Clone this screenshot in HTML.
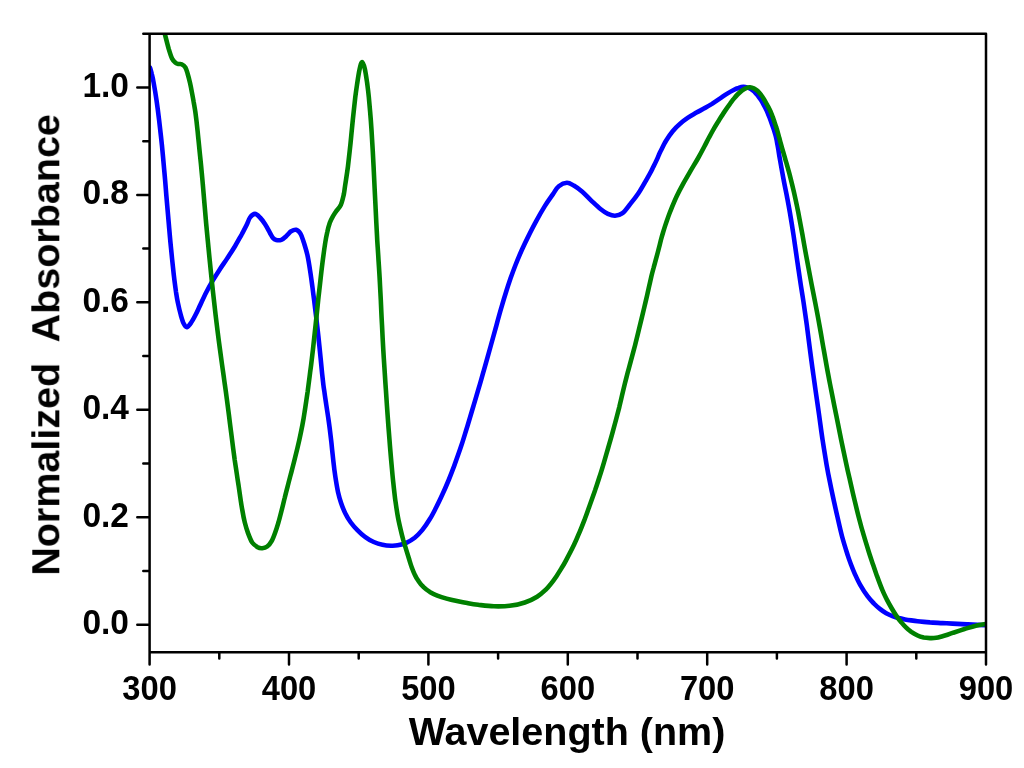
<!DOCTYPE html><html><head><meta charset="utf-8"><style>html,body{margin:0;padding:0;background:#fff;}svg{display:block;}text{font-family:"Liberation Sans",sans-serif;font-weight:bold;fill:#000;}.t{opacity:0.999;will-change:transform;}</style></head><body>
<svg width="1024" height="768" viewBox="0 0 1024 768">
<rect x="0" y="0" width="1024" height="768" fill="#fff"/>
<defs><clipPath id="c"><rect x="149.60" y="33.80" width="836.40" height="618.40"/></clipPath></defs>
<g clip-path="url(#c)" fill="none" stroke-width="4.60" stroke-linejoin="round" stroke-linecap="round">
<path stroke="#0000ff" d="M150.0,67.5 C150.3,68.6 151.2,71.5 151.8,74.0 C152.5,76.6 152.9,78.2 153.6,82.5 C154.4,86.9 155.6,93.8 156.5,100.1 C157.4,106.3 158.2,112.5 159.1,120.0 C160.0,127.5 161.0,136.7 161.9,145.0 C162.7,153.3 163.5,161.7 164.2,170.0 C165.0,178.3 165.6,185.8 166.3,195.0 C167.1,204.2 168.1,215.8 168.9,225.0 C169.7,234.2 170.3,241.7 171.2,250.0 C172.0,258.3 173.0,268.0 173.8,275.0 C174.6,282.0 175.4,287.4 176.0,292.0 C176.7,296.5 177.0,298.6 177.8,302.4 C178.6,306.3 179.8,311.4 180.8,315.0 C181.8,318.5 182.7,321.7 183.8,323.8 C184.8,325.8 185.7,327.4 186.9,327.2 C188.2,327.0 189.7,324.7 191.2,322.5 C192.8,320.3 194.5,317.0 196.1,313.8 C197.7,310.7 199.1,307.2 200.9,303.6 C202.6,299.9 204.4,295.9 206.3,292.2 C208.3,288.4 210.2,285.0 212.4,281.2 C214.6,277.5 217.0,273.7 219.6,269.7 C222.1,265.8 225.2,261.6 227.7,257.6 C230.3,253.7 232.7,250.0 235.0,246.2 C237.3,242.4 239.5,238.3 241.5,234.8 C243.4,231.2 245.2,228.0 246.6,225.1 C248.0,222.2 248.6,219.4 250.0,217.5 C251.4,215.6 253.3,213.9 255.0,213.9 C256.7,213.9 258.3,215.8 260.0,217.5 C261.7,219.2 263.4,221.7 265.1,224.3 C266.8,226.9 268.7,230.7 270.0,233.0 C271.3,235.3 272.0,236.8 273.0,238.0 C274.0,239.2 274.9,239.7 276.2,240.0 C277.6,240.3 279.6,240.4 281.2,239.8 C282.9,239.1 284.6,237.7 286.2,236.2 C287.9,234.8 289.6,232.3 291.2,231.2 C292.9,230.2 294.7,229.4 296.2,229.8 C297.8,230.2 299.3,231.6 300.6,233.8 C301.9,235.9 302.7,239.2 303.9,242.7 C305.0,246.3 306.4,250.5 307.4,255.0 C308.4,259.5 309.2,264.6 310.0,270.0 C310.9,275.4 311.8,282.5 312.5,287.5 C313.1,292.5 313.4,294.8 314.1,300.0 C314.7,305.2 315.6,312.5 316.4,318.7 C317.1,325.0 317.8,331.0 318.5,337.5 C319.2,344.1 320.0,352.2 320.6,358.0 C321.2,363.8 321.6,368.0 322.0,372.5 C322.5,377.0 323.0,381.7 323.4,385.0 C323.8,388.3 324.0,389.2 324.5,392.5 C324.9,395.8 325.7,400.8 326.3,405.0 C326.9,409.2 327.6,413.3 328.2,417.5 C328.8,421.7 329.4,425.8 329.9,430.0 C330.4,434.2 330.9,438.3 331.4,442.5 C331.8,446.7 332.2,450.8 332.7,455.0 C333.1,459.1 333.8,465.0 334.1,467.5 C334.4,470.0 334.1,467.8 334.4,470.0 C334.7,472.2 335.4,477.3 336.0,480.9 C336.6,484.6 337.2,488.3 338.0,492.0 C338.8,495.6 339.8,499.2 341.0,502.8 C342.2,506.4 343.8,510.4 345.5,513.7 C347.1,517.0 348.8,519.7 350.8,522.5 C352.8,525.2 355.0,527.8 357.4,530.2 C359.7,532.6 362.2,534.9 365.0,536.8 C367.7,538.8 370.9,540.7 373.8,542.0 C376.7,543.3 379.6,544.2 382.5,544.8 C385.4,545.5 388.7,545.7 391.2,545.7 C393.7,545.8 395.1,545.8 397.6,545.3 C400.1,544.8 403.4,544.1 406.3,542.8 C409.1,541.5 412.0,539.8 414.7,537.7 C417.4,535.5 419.8,533.1 422.4,529.9 C424.9,526.8 427.7,522.6 430.0,518.8 C432.3,515.1 434.0,511.6 436.1,507.5 C438.3,503.3 440.6,498.4 442.7,493.8 C444.8,489.3 446.8,484.6 448.7,480.0 C450.6,475.3 452.0,471.7 454.2,465.9 C456.3,460.1 459.3,451.7 461.5,445.1 C463.7,438.5 465.4,432.5 467.4,426.2 C469.3,419.9 471.1,413.7 473.0,407.5 C474.9,401.3 476.7,395.1 478.5,388.9 C480.4,382.6 481.9,377.0 484.0,369.9 C486.0,362.7 488.6,353.5 490.7,346.0 C492.8,338.6 494.6,331.7 496.5,325.1 C498.3,318.4 500.1,311.8 501.8,306.2 C503.4,300.6 504.8,296.0 506.3,291.3 C507.8,286.5 509.3,282.0 510.8,277.6 C512.4,273.2 513.7,269.6 515.5,265.0 C517.3,260.4 519.8,254.5 521.8,250.0 C523.9,245.4 525.3,242.4 527.7,237.6 C530.1,232.8 533.3,226.5 536.2,221.2 C539.0,215.9 542.0,210.6 544.8,206.1 C547.6,201.6 550.7,197.4 553.0,194.1 C555.3,190.8 556.4,188.1 558.8,186.2 C561.1,184.4 564.4,182.9 566.9,182.8 C569.4,182.7 571.2,184.1 573.8,185.6 C576.3,187.1 579.4,189.3 582.3,191.7 C585.2,194.2 588.0,197.4 591.0,200.3 C594.1,203.2 597.7,206.8 600.5,209.0 C603.3,211.3 605.5,212.7 607.9,213.8 C610.4,214.9 612.6,215.8 615.0,215.7 C617.4,215.6 620.1,214.9 622.5,213.1 C624.9,211.3 627.0,208.2 629.6,204.8 C632.3,201.5 635.2,198.1 638.6,193.0 C641.9,187.9 647.1,178.5 649.6,174.2 C652.0,169.9 652.1,169.4 653.2,167.1 C654.4,164.8 655.6,162.4 656.5,160.4 C657.4,158.5 658.0,157.0 658.7,155.4 C659.4,153.8 659.5,153.3 660.8,150.8 C662.0,148.4 664.2,143.7 666.2,140.5 C668.2,137.2 670.4,134.1 672.7,131.3 C674.9,128.6 677.2,126.2 679.8,124.0 C682.4,121.7 685.2,119.6 688.0,117.7 C690.8,115.8 693.8,114.2 696.5,112.6 C699.3,111.0 702.1,109.6 704.7,108.1 C707.3,106.7 709.5,105.4 712.0,103.9 C714.4,102.3 716.9,100.6 719.4,98.9 C721.9,97.3 724.4,95.4 726.8,93.9 C729.3,92.3 732.1,90.7 734.1,89.7 C736.0,88.7 737.0,88.4 738.5,88.0 C740.1,87.5 741.8,87.0 743.3,86.9 C744.8,86.8 746.2,87.2 747.5,87.6 C748.8,88.0 749.7,88.4 750.9,89.1 C752.1,89.8 753.3,90.8 754.5,91.8 C755.6,92.9 756.7,94.2 757.8,95.5 C758.8,96.8 759.8,98.3 760.8,99.8 C761.8,101.3 762.7,102.9 763.5,104.5 C764.4,106.0 765.2,107.6 765.9,109.0 C766.5,110.3 766.9,111.1 767.5,112.5 C768.1,114.0 768.9,115.9 769.5,117.5 C770.1,119.1 770.7,120.7 771.3,122.4 C771.9,124.1 772.5,125.9 773.1,127.6 C773.7,129.3 774.3,131.1 774.8,132.8 C775.3,134.6 775.8,136.2 776.2,138.0 C776.6,139.7 776.9,141.3 777.2,143.3 C777.6,145.3 778.0,147.4 778.4,150.0 C778.8,152.6 779.0,154.2 779.8,158.7 C780.6,163.3 782.0,171.2 783.2,177.5 C784.3,183.7 785.8,190.5 786.9,196.2 C788.0,202.0 788.7,205.6 789.8,212.0 C790.9,218.5 792.3,227.0 793.5,235.0 C794.7,243.0 795.9,251.6 797.1,260.0 C798.3,268.3 799.8,277.9 800.8,285.0 C801.9,292.0 802.5,295.4 803.5,302.0 C804.5,308.7 805.7,317.0 806.8,325.0 C807.9,333.0 808.9,341.7 810.0,350.0 C811.1,358.3 812.4,368.3 813.4,375.0 C814.3,381.6 814.6,383.3 815.5,390.0 C816.5,396.7 817.9,406.7 819.1,415.0 C820.3,423.4 821.3,431.7 822.6,440.0 C823.9,448.3 825.4,457.9 826.6,464.9 C827.8,471.9 828.7,476.4 829.9,482.0 C831.0,487.7 832.2,492.9 833.4,498.8 C834.7,504.7 836.1,511.3 837.6,517.5 C839.0,523.7 840.4,530.0 842.0,536.2 C843.7,542.5 846.1,550.1 847.6,554.9 C849.1,559.7 850.0,561.8 851.2,565.0 C852.4,568.2 853.4,570.7 854.9,574.1 C856.4,577.4 858.1,581.2 860.2,584.9 C862.3,588.6 865.2,593.1 867.5,596.2 C869.8,599.3 871.8,601.4 873.9,603.5 C876.0,605.7 878.1,607.5 880.2,609.1 C882.2,610.7 884.1,612.0 886.2,613.2 C888.2,614.3 890.4,615.3 892.5,616.1 C894.6,617.0 896.7,617.5 898.7,618.1 C900.8,618.6 902.9,619.0 905.0,619.4 C907.1,619.8 909.1,620.1 911.2,620.4 C913.3,620.7 915.4,621.0 917.5,621.2 C919.6,621.5 921.7,621.7 923.8,621.9 C925.8,622.1 926.9,622.2 930.0,622.4 C933.1,622.5 938.8,622.9 942.5,623.1 C946.2,623.3 948.2,623.4 952.5,623.6 C956.7,623.8 962.4,624.1 968.0,624.4 C973.6,624.6 983.0,625.1 986.0,625.3"/>
<path stroke="#008000" d="M163.0,28.0 C163.3,29.1 164.0,31.1 165.0,34.6 C165.9,38.1 167.6,44.9 168.7,48.9 C169.9,52.9 170.9,56.2 172.0,58.5 C173.1,60.8 174.4,61.9 175.5,62.8 C176.6,63.7 177.5,63.8 178.5,64.0 C179.5,64.2 180.4,63.6 181.6,64.2 C182.8,64.8 184.4,65.9 185.4,67.5 C186.4,69.1 186.9,71.4 187.7,74.0 C188.5,76.6 189.4,80.2 190.1,83.3 C190.8,86.5 191.4,89.6 192.0,92.8 C192.6,95.9 193.2,99.1 193.7,102.2 C194.3,105.3 194.8,108.5 195.3,111.6 C195.7,114.7 196.1,117.6 196.5,121.0 C196.9,124.4 197.3,128.5 197.7,132.0 C198.0,135.5 198.3,138.0 198.7,142.0 C199.1,146.0 199.6,151.4 200.1,156.1 C200.6,160.8 201.1,165.5 201.5,170.2 C202.0,174.9 202.4,180.0 202.8,184.3 C203.2,188.6 203.4,191.7 203.8,196.0 C204.2,200.3 204.6,205.3 205.0,210.0 C205.4,214.7 205.6,217.3 206.2,224.0 C206.8,230.7 207.9,241.5 208.7,250.0 C209.5,258.5 210.5,268.0 211.2,275.0 C211.9,282.0 212.3,285.3 213.0,292.0 C213.8,298.7 214.7,307.0 215.6,315.0 C216.6,323.0 217.6,331.7 218.7,340.0 C219.8,348.3 221.2,358.3 222.1,365.0 C223.0,371.6 223.5,374.4 224.2,380.0 C225.0,385.7 225.9,391.5 226.8,398.8 C227.8,406.0 229.0,415.4 230.0,423.7 C231.1,432.1 232.4,442.7 233.2,448.7 C234.0,454.8 234.2,456.0 234.7,460.0 C235.3,464.0 236.0,468.3 236.6,472.5 C237.2,476.7 237.8,480.8 238.5,485.0 C239.1,489.2 239.7,493.4 240.3,497.5 C240.9,501.7 241.5,505.9 242.3,510.0 C243.0,514.2 243.8,518.6 244.8,522.5 C245.8,526.5 247.0,530.3 248.2,533.6 C249.5,537.0 250.7,540.3 252.2,542.5 C253.8,544.7 255.6,545.9 257.2,546.9 C258.9,547.9 260.6,548.3 262.2,548.2 C263.9,548.1 265.7,547.7 267.2,546.5 C268.8,545.3 270.3,543.6 271.6,541.2 C272.9,538.9 274.1,535.6 275.2,532.5 C276.4,529.3 277.3,526.2 278.4,522.5 C279.5,518.8 280.6,514.2 281.7,510.0 C282.8,505.9 283.7,501.7 284.8,497.5 C285.8,493.3 287.0,488.8 288.0,485.0 C288.9,481.3 289.4,479.6 290.6,475.0 C291.8,470.4 293.7,463.4 295.1,457.5 C296.6,451.7 298.1,445.4 299.3,440.0 C300.5,434.6 301.5,429.6 302.4,425.0 C303.3,420.3 304.0,416.2 304.6,412.0 C305.3,407.9 305.9,403.4 306.4,400.0 C306.9,396.7 307.2,394.5 307.6,392.0 C307.9,389.5 308.1,388.2 308.5,385.0 C308.9,381.7 309.6,376.7 310.1,372.5 C310.7,368.4 311.3,363.8 311.7,360.0 C312.2,356.3 312.2,355.8 312.9,350.0 C313.5,344.1 314.7,333.3 315.6,325.0 C316.5,316.7 317.5,306.7 318.2,300.0 C318.9,293.3 319.2,291.2 319.9,285.0 C320.6,278.7 321.6,269.5 322.5,262.5 C323.4,255.5 324.4,248.1 325.2,243.0 C326.0,237.9 326.5,235.4 327.3,232.0 C328.0,228.6 328.9,225.4 329.8,222.8 C330.8,220.1 331.8,218.2 332.9,216.3 C334.0,214.3 334.9,213.2 336.2,211.2 C337.6,209.3 339.6,207.5 340.9,204.7 C342.1,201.9 343.0,197.7 343.8,194.4 C344.5,191.1 344.5,189.6 345.2,185.0 C345.9,180.4 347.0,173.8 347.9,166.9 C348.7,159.9 349.7,151.2 350.5,143.4 C351.3,135.6 352.0,127.7 352.8,120.0 C353.6,112.3 354.6,103.1 355.3,96.9 C356.1,90.7 356.6,87.5 357.3,82.8 C358.0,78.1 358.9,72.2 359.7,68.8 C360.5,65.3 361.3,62.0 362.2,62.0 C363.1,62.0 364.0,65.3 364.8,68.8 C365.6,72.2 366.4,78.0 367.1,82.7 C367.7,87.4 368.2,90.7 368.8,96.9 C369.4,103.1 370.2,112.3 370.8,120.0 C371.4,127.8 371.9,135.6 372.3,143.4 C372.8,151.2 373.2,158.8 373.6,166.9 C374.0,175.0 374.3,182.7 374.8,192.0 C375.3,201.3 375.9,214.3 376.3,222.5 C376.7,230.7 377.0,235.0 377.3,241.3 C377.7,247.5 378.1,252.7 378.5,260.0 C379.0,267.3 379.7,278.3 380.0,285.0 C380.4,291.7 380.4,293.3 380.8,300.0 C381.1,306.7 381.5,316.7 382.0,325.0 C382.4,333.3 382.8,341.7 383.3,350.0 C383.8,358.3 384.4,368.3 384.9,375.0 C385.3,381.7 385.4,383.3 385.9,390.0 C386.3,396.7 387.0,406.7 387.6,415.0 C388.2,423.3 388.8,431.7 389.5,440.0 C390.1,448.3 391.0,458.4 391.6,465.0 C392.2,471.7 392.4,474.4 393.0,480.0 C393.6,485.6 394.3,492.5 395.1,498.7 C396.0,505.0 396.9,511.7 398.0,517.5 C399.1,523.3 400.7,529.9 401.6,533.6 C402.5,537.4 402.6,537.4 403.3,540.1 C404.1,542.7 405.2,546.3 406.1,549.4 C407.1,552.6 408.1,555.8 409.0,558.8 C409.9,561.7 410.7,564.5 411.7,567.2 C412.7,569.8 413.6,572.4 414.8,574.7 C415.9,577.1 417.1,579.2 418.6,581.2 C420.0,583.3 421.4,585.1 423.3,586.8 C425.2,588.6 427.5,590.4 429.8,591.9 C432.2,593.3 434.5,594.5 437.3,595.6 C440.1,596.7 443.3,597.7 446.6,598.6 C449.8,599.5 453.5,600.3 456.9,601.0 C460.3,601.7 463.7,602.4 467.2,603.0 C470.8,603.7 473.7,604.3 478.1,604.8 C482.6,605.3 488.6,606.1 493.9,606.3 C499.1,606.4 504.4,606.5 509.6,605.8 C514.7,605.2 520.2,604.1 524.8,602.5 C529.4,601.0 533.7,598.8 537.1,596.7 C540.6,594.6 543.3,592.0 545.6,589.8 C548.0,587.6 549.3,585.9 551.1,583.6 C552.9,581.4 554.8,578.7 556.5,576.2 C558.2,573.6 559.8,571.0 561.4,568.4 C563.0,565.9 563.9,564.5 565.9,560.6 C568.0,556.7 571.7,549.8 573.9,545.1 C576.2,540.4 577.7,536.7 579.5,532.3 C581.4,527.9 583.3,522.9 585.0,518.5 C586.7,514.1 587.8,510.7 589.5,506.0 C591.2,501.2 593.5,494.8 595.2,489.9 C596.8,485.0 598.2,481.0 599.6,476.5 C601.1,472.1 602.3,468.0 603.7,463.3 C605.1,458.6 606.6,453.4 608.0,448.5 C609.4,443.7 610.8,438.9 612.1,434.2 C613.4,429.5 614.6,425.0 615.8,420.5 C617.0,416.0 618.2,411.2 619.3,407.1 C620.3,402.9 621.1,399.3 622.0,395.5 C622.9,391.7 623.8,388.1 624.7,384.2 C625.7,380.4 626.7,376.3 627.7,372.5 C628.7,368.7 629.6,365.8 630.8,361.2 C632.0,356.7 633.6,350.7 635.0,345.5 C636.3,340.3 637.7,334.7 638.8,330.0 C640.0,325.2 641.0,320.9 642.0,316.9 C643.0,312.9 643.7,309.7 644.6,306.0 C645.5,302.3 646.4,298.4 647.2,295.0 C648.0,291.6 648.6,288.7 649.3,285.6 C650.0,282.5 650.7,279.3 651.4,276.3 C652.1,273.3 652.9,270.4 653.7,267.5 C654.4,264.7 655.1,262.4 655.9,259.4 C656.7,256.5 657.6,253.2 658.4,250.0 C659.3,246.7 660.2,243.0 660.9,240.0 C661.7,237.0 662.4,234.6 663.2,232.0 C664.0,229.4 664.5,227.8 665.6,224.4 C666.8,221.0 668.3,216.5 670.1,211.8 C672.0,207.1 674.5,200.9 676.7,196.3 C678.9,191.6 680.8,188.1 683.1,183.9 C685.4,179.7 688.0,175.4 690.4,171.2 C692.9,166.9 695.6,162.5 697.9,158.5 C700.2,154.4 702.3,150.5 704.1,147.0 C706.0,143.5 707.3,140.7 709.0,137.5 C710.7,134.4 712.5,131.1 714.2,128.1 C715.9,125.2 717.6,122.5 719.3,119.7 C721.1,116.9 722.9,114.1 724.7,111.4 C726.4,108.8 728.4,106.0 729.8,104.1 C731.1,102.2 731.4,101.7 732.7,100.1 C734.0,98.6 735.9,96.1 737.5,94.5 C739.1,92.9 740.7,91.4 742.2,90.3 C743.7,89.2 745.4,88.3 746.8,87.8 C748.1,87.3 748.8,87.2 750.0,87.3 C751.2,87.4 752.4,87.7 753.7,88.3 C755.0,89.0 756.4,89.9 757.8,91.1 C759.1,92.4 760.7,94.4 761.8,95.9 C763.0,97.4 763.7,98.8 764.5,100.2 C765.4,101.7 766.1,103.0 766.9,104.4 C767.7,105.8 768.4,107.2 769.1,108.5 C769.7,109.7 770.1,110.6 770.8,112.1 C771.4,113.5 772.2,115.5 772.8,117.2 C773.5,118.9 774.0,120.7 774.6,122.4 C775.2,124.1 775.8,125.8 776.3,127.6 C776.9,129.3 777.4,131.1 777.9,132.8 C778.4,134.6 778.8,136.3 779.3,138.0 C779.8,139.8 780.0,140.9 780.7,143.2 C781.3,145.5 782.4,149.3 783.2,151.9 C783.9,154.5 784.1,154.8 785.2,158.8 C786.3,162.7 788.5,170.2 789.9,175.6 C791.3,181.1 792.4,185.5 793.8,191.6 C795.2,197.7 796.7,204.8 798.2,212.0 C799.6,219.3 801.0,227.0 802.5,235.0 C803.9,243.0 805.4,251.7 807.0,260.0 C808.5,268.3 810.4,277.9 811.7,284.9 C813.1,291.9 813.8,295.4 815.1,302.1 C816.4,308.8 818.0,317.0 819.4,325.0 C820.9,333.0 822.3,341.7 823.8,350.0 C825.3,358.3 827.0,368.3 828.3,375.0 C829.5,381.6 829.9,383.3 831.2,390.0 C832.5,396.7 834.5,406.7 836.2,415.0 C837.8,423.4 839.5,431.7 841.2,440.0 C842.9,448.3 845.1,458.3 846.5,464.9 C847.9,471.6 848.6,474.4 849.9,480.0 C851.2,485.7 852.7,492.5 854.2,498.8 C855.7,505.0 857.2,511.3 858.8,517.5 C860.4,523.7 862.1,529.9 864.0,536.2 C865.8,542.4 868.3,550.2 869.8,555.0 C871.4,559.9 872.1,561.8 873.2,565.1 C874.3,568.4 875.1,570.7 876.6,574.9 C878.1,579.0 880.6,585.9 882.4,590.1 C884.1,594.2 885.6,597.0 887.0,599.9 C888.5,602.8 889.7,604.9 891.2,607.5 C892.7,610.1 894.5,613.1 896.2,615.6 C897.9,618.1 899.7,620.4 901.4,622.4 C903.0,624.4 904.5,626.0 906.2,627.6 C907.8,629.2 909.4,630.5 911.3,631.9 C913.2,633.2 915.5,634.5 917.6,635.5 C919.6,636.4 921.7,637.0 923.7,637.5 C925.8,637.9 927.9,638.0 930.0,638.1 C932.1,638.2 934.2,638.1 936.2,637.8 C938.3,637.5 940.6,636.7 942.5,636.2 C944.4,635.7 945.7,635.3 947.5,634.7 C949.3,634.1 950.5,633.7 953.3,632.7 C956.1,631.8 960.8,630.2 964.5,629.0 C968.3,627.9 972.2,626.7 975.8,625.8 C979.3,625.0 984.3,624.3 986.0,624.0"/>
</g>
<path d="M149.60,33.80 L986.00,33.80 M986.00,33.80 L986.00,652.20 M986.00,652.20 L149.60,652.20 M149.60,652.20 L149.60,33.80 M137.30,624.80 L149.60,624.80 M143.30,571.06 L149.60,571.06 M137.30,517.32 L149.60,517.32 M143.30,463.58 L149.60,463.58 M137.30,409.84 L149.60,409.84 M143.30,356.10 L149.60,356.10 M137.30,302.36 L149.60,302.36 M143.30,248.62 L149.60,248.62 M137.30,194.88 L149.60,194.88 M143.30,141.14 L149.60,141.14 M137.30,87.40 L149.60,87.40 M143.30,33.66 L149.60,33.66 M149.60,652.20 L149.60,664.50 M219.30,652.20 L219.30,658.50 M289.00,652.20 L289.00,664.50 M358.70,652.20 L358.70,658.50 M428.40,652.20 L428.40,664.50 M498.10,652.20 L498.10,658.50 M567.80,652.20 L567.80,664.50 M637.50,652.20 L637.50,658.50 M707.20,652.20 L707.20,664.50 M776.90,652.20 L776.90,658.50 M846.60,652.20 L846.60,664.50 M916.30,652.20 L916.30,658.50 M986.00,652.20 L986.00,664.50" stroke="#000" stroke-width="2.50" fill="none" stroke-linecap="round" stroke-linejoin="miter"/>
<g class="t">
<text transform="translate(129.00,634.20) scale(1.000,1.065)" font-size="33.50" text-anchor="end">0.0</text>
<text transform="translate(129.00,526.72) scale(1.000,1.065)" font-size="33.50" text-anchor="end">0.2</text>
<text transform="translate(129.00,419.24) scale(1.000,1.065)" font-size="33.50" text-anchor="end">0.4</text>
<text transform="translate(129.00,311.76) scale(1.000,1.065)" font-size="33.50" text-anchor="end">0.6</text>
<text transform="translate(129.00,204.28) scale(1.000,1.065)" font-size="33.50" text-anchor="end">0.8</text>
<text transform="translate(129.00,96.80) scale(1.000,1.065)" font-size="33.50" text-anchor="end">1.0</text>
<text transform="translate(149.60,699.90) scale(0.976,1.069)" font-size="33.50" text-anchor="middle">300</text>
<text transform="translate(289.00,699.90) scale(0.976,1.069)" font-size="33.50" text-anchor="middle">400</text>
<text transform="translate(428.40,699.90) scale(0.976,1.069)" font-size="33.50" text-anchor="middle">500</text>
<text transform="translate(567.80,699.90) scale(0.976,1.069)" font-size="33.50" text-anchor="middle">600</text>
<text transform="translate(707.20,699.90) scale(0.976,1.069)" font-size="33.50" text-anchor="middle">700</text>
<text transform="translate(846.60,699.90) scale(0.976,1.069)" font-size="33.50" text-anchor="middle">800</text>
<text transform="translate(986.00,699.90) scale(0.976,1.069)" font-size="33.50" text-anchor="middle">900</text>
<text x="567.00" y="745.30" font-size="39.50" text-anchor="middle">Wavelength (nm)</text>
<text transform="translate(59.30,344.90) rotate(-90)" x="0" y="0" font-size="39.50" text-anchor="middle" xml:space="preserve" style="white-space:pre">Normalized  Absorbance</text>
</g>
</svg></body></html>
